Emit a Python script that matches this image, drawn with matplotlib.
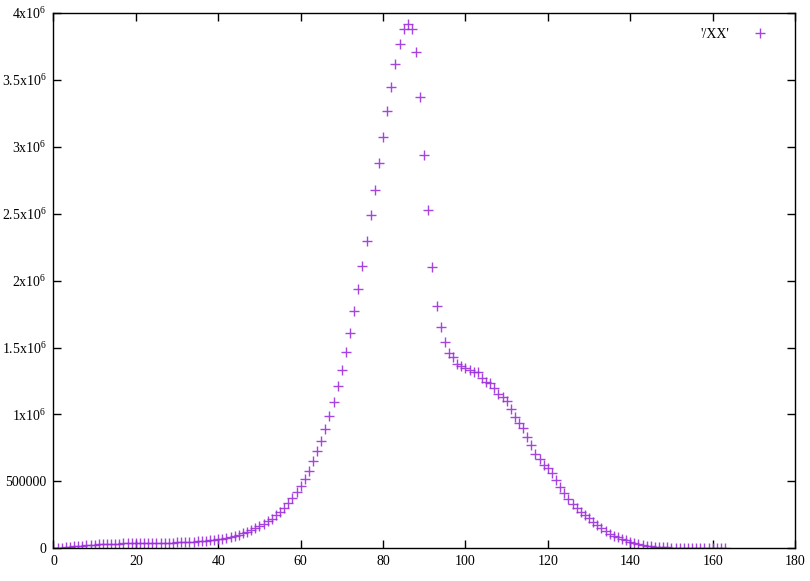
import matplotlib
matplotlib.use("Agg")
import matplotlib.pyplot as plt
from matplotlib.ticker import FixedLocator

plt.rcParams['font.family'] = ['Liberation Serif', 'DejaVu Serif']
plt.rcParams['mathtext.fontset'] = 'custom'
plt.rcParams['mathtext.rm'] = 'Liberation Serif'
plt.rcParams['mathtext.it'] = 'Liberation Serif'

# values in millions, x = 0 .. 163
y_low = [0.0, 0.002, 0.005, 0.008, 0.011, 0.014, 0.017, 0.020, 0.023, 0.025,
         0.027, 0.029, 0.031, 0.032, 0.033, 0.034, 0.035, 0.036, 0.037, 0.037,
         0.038, 0.038, 0.039, 0.039, 0.040, 0.040, 0.041, 0.042, 0.042, 0.043,
         0.044, 0.045, 0.046, 0.047, 0.049, 0.051, 0.053, 0.056, 0.059, 0.063,
         0.067]
y_rise = [0.072, 0.077, 0.084, 0.092, 0.102, 0.112, 0.124, 0.137, 0.154, 0.169,
          0.184, 0.202, 0.221, 0.247, 0.271, 0.304, 0.336, 0.376, 0.419, 0.464,
          0.518, 0.58, 0.65, 0.725, 0.80, 0.89, 0.99, 1.09, 1.21, 1.335,
          1.47, 1.61, 1.77, 1.94, 2.11, 2.30, 2.487, 2.68, 2.88, 3.076,
          3.27, 3.45, 3.616, 3.765, 3.88, 3.92]
y_fall = [3.88, 3.71, 3.37, 2.94, 2.53, 2.10, 1.81, 1.65, 1.54, 1.46,
          1.43, 1.38, 1.36, 1.345, 1.33, 1.32, 1.32, 1.27, 1.243, 1.234,
          1.20, 1.15, 1.13, 1.10, 1.04, 0.98, 0.935, 0.897, 0.834, 0.772,
          0.705, 0.665, 0.62, 0.598, 0.56, 0.51, 0.456, 0.41, 0.37, 0.331,
          0.304, 0.274, 0.249, 0.224, 0.199, 0.177, 0.15, 0.129, 0.107, 0.092,
          0.082, 0.072, 0.06, 0.049, 0.037, 0.032, 0.025, 0.02, 0.015, 0.012,
          0.01, 0.008, 0.006, 0.005, 0.004, 0.003, 0.002, 0.002, 0.001, 0.001,
          0.001, 0.0005, 0.0005, 0.0003, 0.0002, 0.0001, 0.0]
y_values = [v * 1e6 for v in (y_low + y_rise + y_fall)]
x_values = list(range(len(y_values)))

x_ticks = [0, 20, 40, 60, 80, 100, 120, 140, 160, 180]
y_ticks = [0, 500000, 1e6, 1.5e6, 2e6, 2.5e6, 3e6, 3.5e6, 4e6]
y_tick_labels = ['0', '500000', r'1x10$^{6}$', r'1.5x10$^{6}$', r'2x10$^{6}$',
                 r'2.5x10$^{6}$', r'3x10$^{6}$', r'3.5x10$^{6}$', r'4x10$^{6}$']
series_label = "'/XX'"

fig = plt.figure(figsize=(8.1, 5.81), dpi=100)
ax = fig.add_axes([0.066, 0.0563, 0.9155, 0.9213])
ax.plot(x_values, y_values, linestyle='none', marker='+', color='#9d2fdc',
        markersize=6.5, markeredgewidth=1.0, label=series_label, alpha=0.9)

ax.set_xlim(0, 180)
ax.set_ylim(0, 4e6)
ax.xaxis.set_major_locator(FixedLocator(x_ticks))
ax.yaxis.set_major_locator(FixedLocator(y_ticks))
ax.set_yticklabels(y_tick_labels)
ax.tick_params(direction='in', top=True, right=True, length=6, width=1,
               labelsize=10, pad=5)
for s in ax.spines.values():
    s.set_linewidth(1.0)

leg = ax.legend(loc='upper right', frameon=False, markerfirst=False,
                fontsize=10, handlelength=2.8, borderaxespad=0.7)

fig.savefig('out.png', dpi=100)
